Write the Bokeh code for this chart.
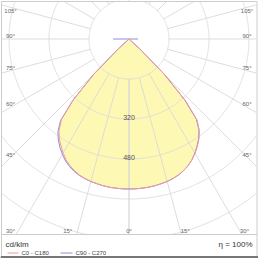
import numpy as np
from bokeh.plotting import figure
from bokeh.models import Range1d
from bokeh.core.properties import value
from bokeh.embed import file_html
from bokeh.resources import INLINE

# ---- data (cd/klm) ----
gamma = [0, 2.5, 5, 7.5, 10, 12.5, 15, 17.5, 20, 22.5, 25, 27.5, 30, 32.5, 35,
         37.5, 40, 42.5, 45, 47.5, 50, 55, 60, 65, 70, 75, 80, 85, 90]
c0 = [600, 600, 599, 598, 596, 593, 590, 585, 579, 570, 559, 545, 528, 509, 488,
      462, 424, 334, 204, 62, 0, 0, 0, 0, 0, 0, 0, 0, 0]
c180 = [600, 600, 599, 598, 596, 593, 590, 585, 579, 570, 559, 545, 527, 507, 486,
        460, 420, 328, 198, 60, 0, 0, 0, 0, 0, 0, 0, 0, 0]
c90 = [600, 600, 599, 598, 596, 593, 590, 585, 579, 570, 559, 545, 527, 507, 486,
       460, 420, 328, 198, 60, 0, 0, 0, 0, 0, 0, 0, 0, 36]
c270 = [600, 600, 599, 598, 596, 593, 590, 586, 581, 573, 563, 550, 533, 514, 493,
        467, 426, 332, 200, 60, 0, 0, 0, 0, 0, 0, 0, 0, 64]
rings = [160, 320, 480, 640, 800]
ring_labels = ["320", "480"]
ring_label_values = [320, 480]
ray_angles = list(range(0, 181, 15))
side_label_angles = [45, 60, 75, 90, 105]
bottom_label_angles = [0, 15, 30]
unit_label = "cd/klm"
legend_labels = ["C0 - C180", "C90 - C270"]
eta_label = "η = 100%"

# ---- layout ----
W = H = 258
CX, CY = 128.5, 38.5
S = 0.25  # px per cd/klm


def dx(px):
    return (px - CX) / S


def dy(py):
    return -(py - CY) / S


BX0, BX1 = dx(1.5), dx(256)
BY0, BY1 = dy(234), dy(1.5)

FONT = value("Liberation Sans")
RED = "#f09a9a"
BLUE = "#8c8ce8"
GRID = "#d9d9d9"

p = figure(width=W, height=H, x_range=Range1d(dx(0), dx(W)), y_range=Range1d(dy(H), dy(0)),
           output_backend="svg", toolbar_location=None, min_border=0,
           x_axis_location=None, y_axis_location=None, outline_line_color=None,
           background_fill_color="white", border_fill_color="white")
p.grid.visible = False


def curve(left, right):
    g = np.radians(gamma)
    lv = np.array(left, float)
    rv = np.array(right, float)
    xs = list(-(lv * np.sin(g))[::-1]) + list((rv * np.sin(g))[1:])
    ys = list(-(lv * np.cos(g))[::-1]) + list(-(rv * np.cos(g))[1:])
    return xs, ys


# fill
fx, fy = curve(c180, c0)
p.patch(fx + [0], fy + [0], fill_color="#fdf8b4", line_color=None)

# rings
th = np.linspace(0, 2 * np.pi, 1441)
for R in rings:
    x = R * np.cos(th)
    y = R * np.sin(th)
    out = (x < BX0) | (x > BX1) | (y < BY0) | (y > BY1)
    x[out] = np.nan
    y[out] = np.nan
    p.line(x, y, line_color=GRID, line_width=1, line_alpha=0.9)

# rays
rxs, rys = [], []
for a in ray_angles:
    for side in (-1, 1):
        ux = side * np.sin(np.radians(a))
        uy = -np.cos(np.radians(a))
        ts = []
        if ux > 1e-9:
            ts.append(BX1 / ux)
        if ux < -1e-9:
            ts.append(BX0 / ux)
        if uy > 1e-9:
            ts.append(BY1 / uy)
        if uy < -1e-9:
            ts.append(BY0 / uy)
        t = min(ts)
        r0 = rings[0]
        rxs.append([r0 * ux, t * ux])
        rys.append([r0 * uy, t * uy])
p.multi_line(rxs, rys, line_color=GRID, line_width=1, line_alpha=0.9)

# curves
x1, y1 = curve(c270, c90)
p.line(x1, y1, line_color=BLUE, line_width=1)
x2, y2 = curve(c180, c0)
p.line(x2, y2, line_color=RED, line_width=1)

# ring labels
p.text(x=[0] * len(ring_label_values), y=[-v + 6 for v in ring_label_values], text=ring_labels,
       text_font=FONT, text_font_size="7px", text_align="center", text_baseline="middle",
       text_color="#555555")

# angle labels
lx, ly, lt = [], [], []
for a in side_label_angles:
    g = np.radians(a)
    ypx = CY + 118.5 * np.cos(g) / np.sin(g)
    ypx = max(ypx - 3, 10)
    for xpx in (10, 246.5):
        lx.append(dx(xpx)); ly.append(dy(ypx)); lt.append(f"{a}°")
for a in bottom_label_angles:
    g = np.radians(a)
    off = 191.5 * np.tan(g)
    if a == 0:
        pos = [CX]
    else:
        pos = [max(CX - off - 10, 10), min(CX + off + 5, 246.5)]
    for xpx in pos:
        lx.append(dx(xpx)); ly.append(dy(230.5)); lt.append(f"{a}°")
p.text(x=lx, y=ly, text=lt, text_font=FONT, text_font_size="6px", text_align="center",
       text_baseline="middle", text_color="#666666")

# frame
p.segment(x0=[dx(1), dx(1), dx(256.5), dx(1)], y0=[dy(1), dy(1), dy(1), dy(234)],
          x1=[dx(256.5), dx(1), dx(256.5), dx(256.5)], y1=[dy(1), dy(257), dy(257), dy(234)],
          line_color="#cccccc", line_width=1)
p.segment(x0=[dx(0)], y0=[dy(256.5)], x1=[dx(258)], y1=[dy(256.5)], line_color="#777777", line_width=2)

# legend
p.text(x=[dx(5)], y=[dy(244)], text=[unit_label], text_font=FONT, text_font_size="8px",
       text_align="left", text_baseline="middle", text_color="#333333")
p.text(x=[dx(252)], y=[dy(244)], text=[eta_label], text_font=FONT, text_font_size="8px",
       text_align="right", text_baseline="middle", text_color="#333333")
p.segment(x0=[dx(7)], y0=[dy(252.5)], x1=[dx(18)], y1=[dy(252.5)], line_color=RED, line_width=1)
p.segment(x0=[dx(60)], y0=[dy(252.5)], x1=[dx(72)], y1=[dy(252.5)], line_color=BLUE, line_width=1)
p.text(x=[dx(21), dx(75)], y=[dy(252.5)] * 2, text=legend_labels, text_font=FONT,
       text_font_size="6px", text_align="left", text_baseline="middle", text_color="#444444")

open("out.html", "w").write(file_html(p, INLINE))
